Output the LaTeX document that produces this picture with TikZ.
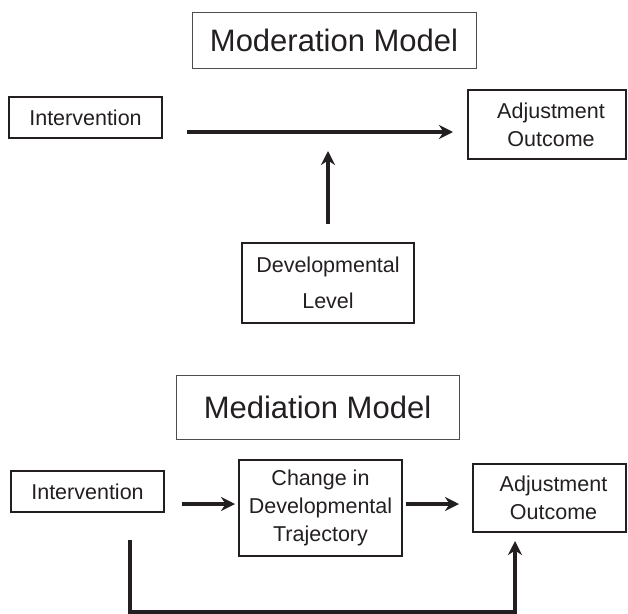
\documentclass[tikz,border=0pt]{standalone}
\usepackage{fontspec}
\setmainfont{Liberation Sans}
\usetikzlibrary{arrows.meta}
\definecolor{ink}{HTML}{231F20}
\begin{document}
\begin{tikzpicture}[x=1pt,y=-1pt,
  box/.style={draw=ink, line width=2.6pt, inner sep=0pt, outer sep=0pt,
    text=ink, align=center, font=\fontsize{21.5}{28}\selectfont},
  titlebox/.style={draw=ink!80, line width=1pt, inner sep=0pt, outer sep=0pt,
    text=ink, font=\fontsize{31}{37}\selectfont},
  arr/.style={draw=ink, line width=3.2pt, line join=miter,
    -{Stealth[length=14pt,width=14pt,inset=4.5pt]}}]
\useasboundingbox (0,0) rectangle (628,613);

% ---- Moderation model ----
\node[titlebox, minimum width=284, minimum height=56] (modtitle) at (334,40) {Moderation Model};
\node[box, minimum width=153, minimum height=41] (int1) at (85.5,117.5) {Intervention};
\node[box, minimum width=158, minimum height=69] (adj1) at (547,124.5) {\hspace*{8pt}Adjustment\\\hspace*{8pt}Outcome};
\node[box, minimum width=172, minimum height=80,
  font=\fontsize{21.5}{36}\selectfont] (dev) at (328,283) {Developmental\\Level};

\coordinate (m1) at (187,132);
\coordinate (m2) at (453,132);
\coordinate (v1) at (328,224);
\coordinate (v2) at (328,151);
\draw[arr] (m1) -- (m2);
\draw[arr] (v1) -- (v2);

% ---- Mediation model ----
\node[titlebox, minimum width=283, minimum height=64] (medtitle) at (317.5,407) {Mediation Model};
\node[box, minimum width=153, minimum height=41] (int2) at (87.5,491.5) {Intervention};
\node[box, minimum width=163, minimum height=96] (change) at (320.5,508) {Change in\\Developmental\\Trajectory};
\node[box, minimum width=153, minimum height=68] (adj2) at (549.5,498) {\hspace*{8pt}Adjustment\\\hspace*{8pt}Outcome};

\coordinate (a1) at (182,504);
\coordinate (a2) at (235,504);
\coordinate (a3) at (406,504);
\coordinate (a4) at (459,504);
\draw[arr] (a1) -- (a2);
\draw[arr] (a3) -- (a4);

\coordinate (b1) at (130,540);
\coordinate (b2) at (130,612);
\coordinate (b3) at (515,612);
\coordinate (b4) at (515,541);
\draw[arr] (b1) -- (b2) -- (b3) -- (b4);
\end{tikzpicture}
\end{document}
